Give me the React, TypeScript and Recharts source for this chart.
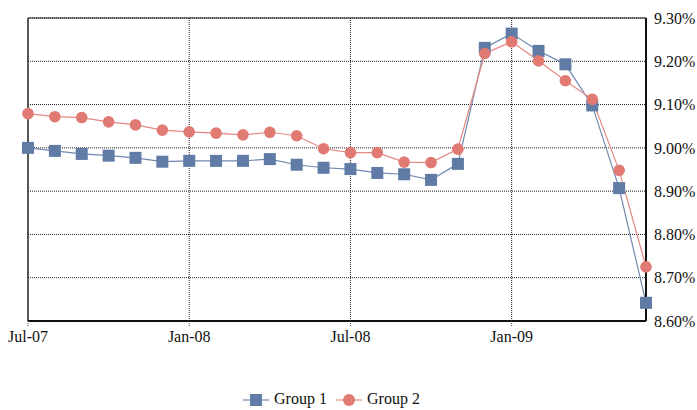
import React from 'react';
import { LineChart, Line, XAxis, YAxis, CartesianGrid, ReferenceLine } from 'recharts';

const months = ['Jul-07','Aug-07','Sep-07','Oct-07','Nov-07','Dec-07','Jan-08','Feb-08','Mar-08','Apr-08','May-08','Jun-08','Jul-08','Aug-08','Sep-08','Oct-08','Nov-08','Dec-08','Jan-09','Feb-09','Mar-09','Apr-09','May-09','Jun-09'];
const group1 = [9.000,8.993,8.986,8.982,8.977,8.968,8.970,8.970,8.970,8.974,8.961,8.954,8.951,8.942,8.939,8.926,8.963,9.231,9.264,9.224,9.193,9.098,8.907,8.642];
const group2 = [9.079,9.072,9.070,9.060,9.053,9.041,9.037,9.034,9.030,9.036,9.028,8.998,8.989,8.989,8.967,8.966,8.997,9.218,9.245,9.201,9.155,9.112,8.948,8.725];
const xTicks = [0, 6, 12, 18];
const yTicks = [8.6, 8.7, 8.8, 8.9, 9.0, 9.1, 9.2, 9.3];
const seriesNames = ['Group 1', 'Group 2'];

const data = months.map((m, i) => ({ idx: i, month: m, g1: group1[i], g2: group2[i] }));

const BLUE = '#5f7ba6';
const BLUE_LINE = '#7088b0';
const RED = '#e07a72';
const RED_LINE = '#e58880';
const FONT = "'Liberation Serif', 'Times New Roman', serif";

const SquareDot = (props: any) => {
  const { cx, cy, index } = props;
  if (cx == null || cy == null) return <g key={`s${index}`} />;
  return <rect key={`s${index}`} x={cx - 6} y={cy - 6} width={12} height={12} fill={BLUE} />;
};
const CircleDot = (props: any) => {
  const { cx, cy, index } = props;
  if (cx == null || cy == null) return <g key={`c${index}`} />;
  return <circle key={`c${index}`} cx={cx} cy={cy} r={5.8} fill={RED} />;
};

export default function App() {
  return (
    <div style={{ position: 'absolute', left: 0, top: 0, width: 697, height: 410, background: '#fff', fontFamily: FONT }}>
      <style>{`.recharts-text, .recharts-cartesian-axis-tick-value { font-family: ${FONT}; }`}</style>
      <LineChart width={697} height={410} data={data} margin={{ top: 18, right: 0, left: 28, bottom: 59 }} style={{ fontFamily: FONT }}>
        <CartesianGrid yAxisId="r" stroke="#1a1a1a" strokeDasharray="1 1" />
        <XAxis
          dataKey="idx"
          type="number"
          domain={[0, 23]}
          ticks={xTicks}
          tickFormatter={(v: number) => months[v]}
          height={30}
          axisLine={{ stroke: '#111', strokeWidth: 2 }}
          tickLine={{ stroke: '#444', strokeDasharray: '1 1' }}
          tickSize={5}
          tickMargin={5}
          tick={{ fill: '#111', fontSize: 16, fontFamily: FONT }}
        />
        <YAxis
          yAxisId="r"
          orientation="right"
          domain={[8.6, 9.3]}
          ticks={yTicks}
          width={51}
          tickFormatter={(v: number) => v.toFixed(2) + '%'}
          axisLine={{ stroke: '#111', strokeWidth: 2 }}
          tickLine={false}
          tickSize={0}
          tickMargin={8}
          tick={{ fill: '#111', fontSize: 16, fontFamily: FONT }}
        />
        <ReferenceLine yAxisId="r" x={0} stroke="#333" strokeWidth={1.5} />
        <ReferenceLine yAxisId="r" y={9.3} stroke="#222" strokeWidth={1.2} />
        <Line yAxisId="r" type="linear" dataKey="g1" stroke={BLUE_LINE} strokeWidth={1.2} dot={SquareDot} activeDot={false} isAnimationActive={false} />
        <Line yAxisId="r" type="linear" dataKey="g2" stroke={RED_LINE} strokeWidth={1.2} dot={CircleDot} activeDot={false} isAnimationActive={false} />
      </LineChart>
      <div style={{ position: 'absolute', top: 390, left: 0, width: 697, height: 20, fontSize: 16, color: '#111', fontFamily: FONT }}>
        <svg width={26} height={20} style={{ position: 'absolute', left: 243, top: 0 }}>
          <line x1={0} y1={10} x2={26} y2={10} stroke={BLUE_LINE} strokeWidth={1.2} />
          <rect x={7} y={4} width={12} height={12} fill={BLUE} />
        </svg>
        <span style={{ position: 'absolute', left: 274, top: 0, whiteSpace: 'nowrap' }}>{seriesNames[0]}</span>
        <svg width={26} height={20} style={{ position: 'absolute', left: 336, top: 0 }}>
          <line x1={0} y1={10} x2={26} y2={10} stroke={RED_LINE} strokeWidth={1.2} />
          <circle cx={13} cy={10} r={6} fill={RED} />
        </svg>
        <span style={{ position: 'absolute', left: 367, top: 0, whiteSpace: 'nowrap' }}>{seriesNames[1]}</span>
      </div>
    </div>
  );
}
